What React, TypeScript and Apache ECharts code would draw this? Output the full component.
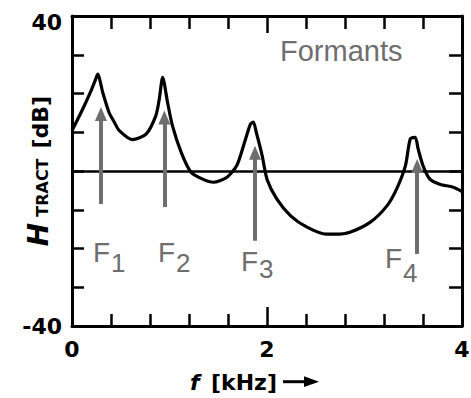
import React, { useEffect, useRef } from "react";
import * as echarts from "echarts";

// Vocal tract transfer function
const freqKHz = [0, 0.11, 0.195, 0.24, 0.264, 0.315, 0.38, 0.434, 0.485, 0.62, 0.76, 0.86, 0.895, 0.93, 0.98, 1.03, 1.12, 1.22, 1.34, 1.45, 1.59, 1.69, 1.77, 1.83, 1.86, 1.89, 1.95, 2.0, 2.1, 2.24, 2.41, 2.61, 2.7, 2.85, 3.06, 3.23, 3.33, 3.42, 3.47, 3.52, 3.55, 3.6, 3.67, 3.77, 3.91, 4.0];
const levelDb = [10.4, 16, 20.7, 23.5, 25.0, 20.3, 15.1, 12.6, 10.4, 8.1, 9.5, 14.3, 18.5, 24.2, 17.7, 11.7, 4.8, -0.3, -2.1, -2.9, -1.6, 1.4, 7.4, 12.1, 12.6, 10.0, 4.0, -2.1, -7.2, -11.5, -14.5, -16.3, -16.3, -15.8, -13.2, -9.0, -4.6, 1.4, 8.3, 8.7, 5.7, 1.4, -2.1, -3.4, -4.2, -5.3];

// Formant arrows
const formantNames = ["1", "2", "3", "4"];
const arrowFreq = [0.297, 0.947, 1.877, 3.54];
const arrowBottomDb = [-8.5, -9.3, -18, -21.4];
const arrowTipDb = [16.5, 15.6, 6.5, 3.1];

// Axis ticks and tick labels
const xTickValues = [0.4, 0.8, 1.2, 1.6, 2, 2.4, 2.8, 3.2, 3.6];
const xMajorTick = 2;
const yTickValues = [-30, -20, -10, 0, 10, 20, 30];
const yTicks = [-40, 40];

const X_MIN = 0;
const X_MAX = 4;
const Y_MIN = -40;
const Y_MAX = 40;

const GRAY = "#6e6e6e";
const BOLD = '"DejaVu Sans"';
const SANS = '"Liberation Sans"';

const GRID = { left: 72, right: 9, top: 16, bottom: 72 };
const W = 471;
const H = 398;

export default function App() {
  const ref = useRef<HTMLDivElement>(null);
  useEffect(() => {
    if (!ref.current) return;
    const chart = echarts.init(ref.current, undefined, { renderer: "svg" });
    const curve = freqKHz.map((f, i) => [f, levelDb[i]]);
    const headHalfDb = 1.8;
    const arrows = arrowFreq.map((f, i) => [
      { coord: [f, arrowBottomDb[i]] },
      { coord: [f, arrowTipDb[i] - headHalfDb] },
    ]);

    // pixel lengths of ticks converted to data units
    const dbPerPx = (Y_MAX - Y_MIN) / (H - GRID.top - GRID.bottom);
    const khzPerPx = (X_MAX - X_MIN) / (W - GRID.left - GRID.right);
    const tickMarks: any[] = [];
    xTickValues.forEach((v) => {
      const major = Math.abs(v - xMajorTick) < 1e-6;
      tickMarks.push([{ coord: [v, Y_MIN] }, { coord: [v, Y_MIN + (major ? 19 : 12) * dbPerPx] }]);
      tickMarks.push([{ coord: [v, Y_MAX] }, { coord: [v, Y_MAX - (major ? 17 : 13) * dbPerPx] }]);
    });
    yTickValues.forEach((v) => {
      tickMarks.push([{ coord: [X_MAX, v] }, { coord: [X_MAX - 13 * khzPerPx, v] }]);
    });

    const labelY = (v: number) => {
      const r = Math.round(v);
      if (!yTicks.includes(r)) return "";
      return r > 0 ? `{t|${r}}` : String(r);
    };

    const tickStyle = { color: "#000", width: 2.5 };
    const line = { show: true, onZero: false, lineStyle: { color: "#000", width: 3 } };

    const fPos = [
      { x: 93, y: 252 },
      { x: 158, y: 252 },
      { x: 241, y: 261.5 },
      { x: 385, y: 258.5 },
    ];
    const fShift = [22, 21, 14, 28];
    const fLabels = formantNames.map((n, i) => ({
      type: "text",
      x: fPos[i].x,
      y: fPos[i].y,
      style: {
        text: `{f|F}{s|${n}}`,
        align: "left",
        verticalAlign: "middle",
        textAlign: "left",
        textVerticalAlign: "middle",
        rich: {
          f: { fontFamily: SANS, fontSize: 28, fill: GRAY, color: GRAY, lineHeight: 30 },
          s: { fontFamily: SANS, fontSize: 26, fill: GRAY, color: GRAY, lineHeight: 28, padding: [fShift[i], 0, 0, 1] },
        },
      },
    }));

    const txt = (text: string, x: number, y: number, font: string, fill = "#000") => ({
      type: "text",
      x,
      y,
      style: { text, font, fill, align: "left", verticalAlign: "middle", textAlign: "left", textVerticalAlign: "middle" },
    });

    chart.setOption({
      animation: false,
      backgroundColor: "#fff",
      grid: { ...GRID, containLabel: false, outerBoundsMode: "none" },
      xAxis: [
        {
          type: "value",
          min: X_MIN,
          max: X_MAX,
          interval: 2,
          position: "bottom",
          splitLine: { show: false },
          axisLine: line,
          axisTick: { show: false },
          axisLabel: { show: true, margin: 12, color: "#000", fontFamily: BOLD, fontWeight: "bold", fontSize: 22 },
        },
        {
          type: "value",
          min: X_MIN,
          max: X_MAX,
          interval: 2,
          position: "top",
          splitLine: { show: false },
          axisLine: line,
          axisTick: { show: false },
          axisLabel: { show: false },
        },
      ],
      yAxis: [
        {
          type: "value",
          min: Y_MIN,
          max: Y_MAX,
          interval: 10,
          position: "left",
          splitLine: { show: false },
          axisLine: line,
          axisTick: { show: true, inside: true, length: 12, lineStyle: tickStyle },
          axisLabel: {
            show: true,
            formatter: labelY,
            margin: 10,
            color: "#000",
            fontFamily: BOLD,
            fontWeight: "bold",
            fontSize: 22,
            rich: { t: { fontFamily: BOLD, fontWeight: "bold", fontSize: 22, color: "#000", padding: [13, 0, 0, 0] } },
          },
          name: "{h|H}{s|TRACT}{d|[dB]}",
          nameLocation: "middle",
          nameRotate: 90,
          nameGap: 20,
          nameMoveOverlap: false,
          nameTextStyle: {
            color: "#000",
            rich: {
              h: { fontFamily: BOLD, fontStyle: "italic", fontWeight: "bold", fontSize: 28, color: "#000", padding: [0, 6, 0, 0] },
              s: { fontFamily: BOLD, fontWeight: "bold", fontSize: 16, color: "#000", padding: [8, 10, 0, 0] },
              d: { fontFamily: BOLD, fontWeight: "bold", fontSize: 22, color: "#000", padding: [4, 0, 0, 0] },
            },
          },
        },
        {
          type: "value",
          min: Y_MIN,
          max: Y_MAX,
          interval: 10,
          position: "right",
          splitLine: { show: false },
          axisLine: line,
          axisTick: { show: false },
          axisLabel: { show: false },
        },
      ],
      series: [
        {
          type: "line",
          xAxisIndex: 0,
          yAxisIndex: 0,
          data: curve,
          symbol: "none",
          showSymbol: false,
          smooth: 0.25,
          lineStyle: { color: "#000", width: 3.2 },
          z: 3,
          markLine: {
            silent: true,
            symbol: ["none", "none"],
            label: { show: false },
            lineStyle: { color: "#000", width: 2.5, type: "solid" },
            data: [{ yAxis: 0 }],
          },
        },
        {
          type: "line",
          xAxisIndex: 0,
          yAxisIndex: 0,
          data: [],
          symbol: "none",
          z: 4,
          markLine: {
            silent: true,
            symbol: ["none", "triangle"],
            symbolSize: [12, 14],
            label: { show: false },
            lineStyle: { color: GRAY, width: 4, type: "solid" },
            itemStyle: { color: GRAY },
            data: arrows,
          },
        },
        {
          // inward ticks on the bottom, top and right frame
          type: "line",
          xAxisIndex: 0,
          yAxisIndex: 0,
          data: [],
          symbol: "none",
          z: 5,
          clip: false,
          markLine: {
            silent: true,
            symbol: ["none", "none"],
            label: { show: false },
            lineStyle: { color: "#000", width: 2.5, type: "solid" },
            data: tickMarks,
          },
        },
      ],
      graphic: [
        txt("Formants", 280, 51, `normal 29px ${SANS}`, GRAY),
        ...fLabels,
        txt("f", 190, 382.5, `italic bold 22px ${BOLD}`),
        txt("[kHz]", 211, 382.5, `bold 22px ${BOLD}`),
        {
          type: "line",
          shape: { x1: 283, y1: 381.7, x2: 308, y2: 381.7 },
          style: { stroke: "#000", lineWidth: 3 },
        },
        {
          type: "polygon",
          shape: { points: [[304, 376.3], [319, 381.7], [304, 387.1]] },
          style: { fill: "#000" },
        },
      ],
    });
    return () => chart.dispose();
  }, []);
  return <div ref={ref} style={{ position: "fixed", left: 0, top: 0, width: W, height: H, background: "#fff" }} />;
}
